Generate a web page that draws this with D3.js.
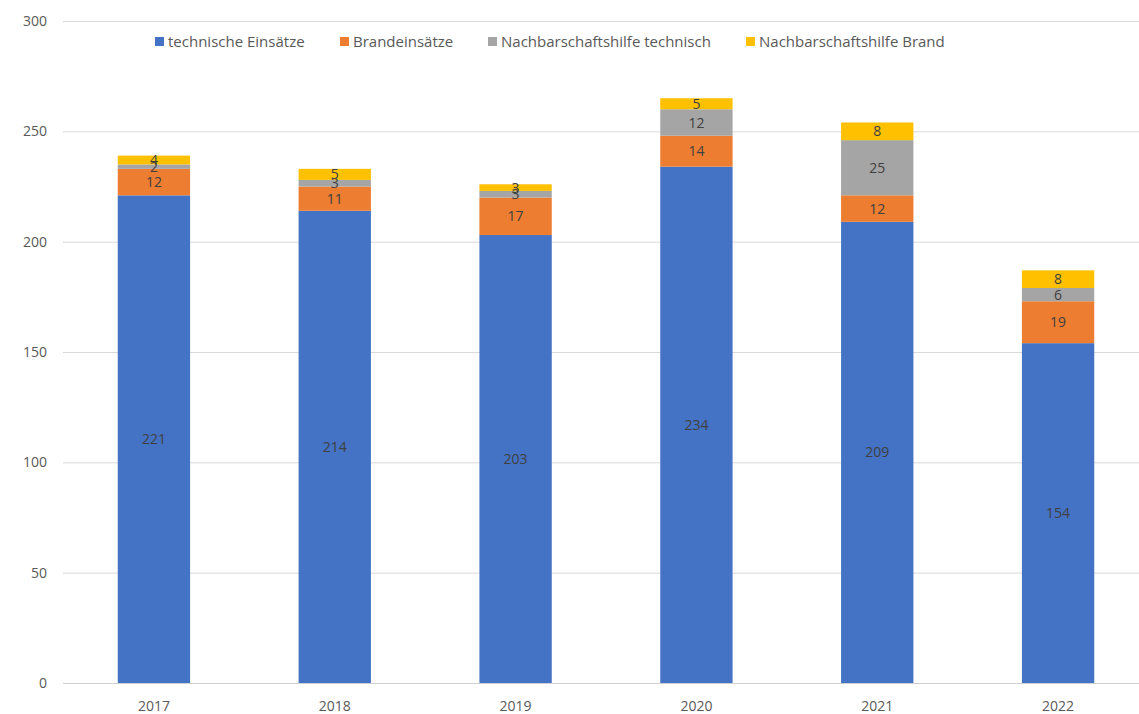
<!DOCTYPE html>
<html><head><meta charset="utf-8">
<script src="https://cdn.jsdelivr.net/npm/d3@7"></script>
<style>body{margin:0;background:#fff;} svg{display:block;font-family:"Open Sans","Liberation Sans",sans-serif;}</style>
</head><body>
<svg id="c" width="1139" height="714"></svg>
<script>
const years = ["2017","2018","2019","2020","2021","2022"];
const seriesNames = ["technische Einsätze","Brandeinsätze","Nachbarschaftshilfe technisch","Nachbarschaftshilfe Brand"];
const technisch = [221,214,203,234,209,154];
const brand = [12,11,17,14,12,19];
const nhTechnisch = [2,3,3,12,25,6];
const nhBrand = [4,5,3,5,8,8];
const yTicks = [0,50,100,150,200,250,300];
const colors = ["#4472C4","#ED7D31","#A5A5A5","#FFC000"];

const data = years.map((y,i)=>({year:y, s0:technisch[i], s1:brand[i], s2:nhTechnisch[i], s3:nhBrand[i]}));
const keys = ["s0","s1","s2","s3"];
const stacked = d3.stack().keys(keys)(data);

const svg = d3.select("#c");
const x = d3.scaleBand().domain(years).range([63.5,1148.5]).paddingInner(0.6).paddingOuter(0.3);
const y = d3.scaleLinear().domain([0,300]).range([683,21]);

svg.append("g").selectAll("line").data(yTicks).join("line")
  .attr("x1",63).attr("x2",1139).attr("y1",d=>y(d)+0.5).attr("y2",d=>y(d)+0.5)
  .attr("stroke",d=>d===0?"#d0d0d0":"#d9d9d9").attr("stroke-width",1);

svg.append("g").selectAll("text").data(yTicks).join("text")
  .attr("x",47).attr("y",d=>y(d)).attr("dy","0.35em").attr("text-anchor","end")
  .attr("font-size",14).attr("fill","#595959").text(d=>d);

const g = svg.append("g");
stacked.forEach((s,si)=>{
  g.append("g").selectAll("rect").data(s).join("rect")
    .attr("x",d=>x(d.data.year)).attr("width",x.bandwidth())
    .attr("y",d=>y(d[1])).attr("height",d=>y(d[0])-y(d[1]))
    .attr("fill",colors[si]);
});
stacked.forEach((s,si)=>{
  g.append("g").selectAll("text").data(s).join("text")
    .attr("x",d=>x(d.data.year)+x.bandwidth()/2)
    .attr("y",d=>(y(d[0])+y(d[1]))/2).attr("dy","0.36em")
    .attr("text-anchor","middle").attr("font-size",14).attr("fill","#404040")
    .text(d=>d[1]-d[0]);
});

svg.append("g").selectAll("text").data(years).join("text")
  .attr("x",d=>x(d)+x.bandwidth()/2).attr("y",706).attr("dy","0.35em")
  .attr("text-anchor","middle").attr("font-size",14).attr("fill","#595959").text(d=>d);

const legX = [155,340,488,746];
const leg = svg.append("g");
seriesNames.forEach((n,i)=>{
  leg.append("rect").attr("x",legX[i]).attr("y",37).attr("width",9).attr("height",9).attr("fill",colors[i]);
  leg.append("text").attr("x",legX[i]+13).attr("y",42).attr("dy","0.35em")
    .attr("font-size",15).attr("fill","#595959").text(n);
});
</script>
</body></html>
